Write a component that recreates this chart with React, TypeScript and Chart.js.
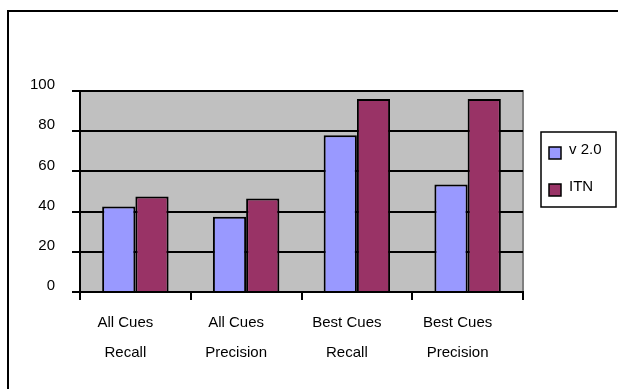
import React, { useEffect, useRef } from "react";
import { Chart, registerables } from "chart.js";

Chart.register(...registerables);

const categories: string[][] = [
  ["All Cues", "Recall"],
  ["All Cues", "Precision"],
  ["Best Cues", "Recall"],
  ["Best Cues", "Precision"],
];
const seriesNames = ["v 2.0", "ITN"];
const v20Values = [42.5, 37.5, 78, 53.5];
const itnValues = [47.5, 46.5, 96, 96];
const yTicks = [0, 20, 40, 60, 80, 100];

const FONT = "'Liberation Sans', Arial, sans-serif";

export default function App() {
  const ref = useRef<HTMLCanvasElement | null>(null);

  useEffect(() => {
    if (!ref.current) return;

    const framePlugin = {
      id: "frame",
      beforeDraw(chart: any) {
        const { ctx, chartArea, width, height } = chart;
        ctx.save();
        ctx.fillStyle = "#ffffff";
        ctx.fillRect(0, 0, width, height);
        ctx.strokeStyle = "#000000";
        ctx.lineWidth = 2;
        ctx.beginPath();
        ctx.moveTo(8, height + 5);
        ctx.lineTo(8, 11);
        ctx.lineTo(width + 5, 11);
        ctx.stroke();
        ctx.fillStyle = "#C0C0C0";
        ctx.fillRect(chartArea.left, chartArea.top, chartArea.right - chartArea.left, chartArea.bottom - chartArea.top);
        ctx.strokeStyle = "#808080";
        ctx.lineWidth = 2;
        ctx.strokeRect(chartArea.left, chartArea.top, chartArea.right - chartArea.left, chartArea.bottom - chartArea.top);
        ctx.restore();
      },
    };

    const legendPlugin = {
      id: "customLegend",
      afterDraw(chart: any) {
        const { ctx } = chart;
        const bx = 541, by = 132, bw = 75, bh = 75;
        ctx.save();
        ctx.fillStyle = "#ffffff";
        ctx.fillRect(bx, by, bw, bh);
        ctx.strokeStyle = "#000000";
        ctx.lineWidth = 1.5;
        ctx.strokeRect(bx, by, bw, bh);
        ctx.font = `15px ${FONT}`;
        ctx.textBaseline = "middle";
        chart.data.datasets.forEach((ds: any, i: number) => {
          const cy = by + 20 + i * 37;
          ctx.fillStyle = ds.backgroundColor;
          ctx.fillRect(bx + 8, cy - 5, 12, 12);
          ctx.strokeStyle = "#000000";
          ctx.lineWidth = 1.5;
          ctx.strokeRect(bx + 8, cy - 5, 12, 12);
          ctx.fillStyle = "#000000";
          ctx.fillText(ds.label, bx + 28, cy - 2);
        });
        ctx.restore();
      },
    };

    const chart = new Chart(ref.current, {
      type: "bar",
      data: {
        labels: categories,
        datasets: [
          {
            label: seriesNames[0],
            data: v20Values,
            backgroundColor: "#9999FF",
            borderColor: "#000000",
            borderWidth: 2,
          },
          {
            label: seriesNames[1],
            data: itnValues,
            backgroundColor: "#993366",
            borderColor: "#000000",
            borderWidth: 2,
          },
        ],
      },
      options: {
        responsive: false,
        animation: false,
        layout: { padding: { left: 0, top: 91, right: 95, bottom: 0 } },
        datasets: { bar: { barPercentage: 1, categoryPercentage: 0.6 } },
        plugins: {
          legend: { display: false },
          tooltip: { enabled: false },
        },
        scales: {
          x: {
            grid: {
              offset: true,
              drawOnChartArea: false,
              tickLength: 8,
              color: "#000000",
              lineWidth: 2,
            },
            border: { color: "#000000", width: 2 },
            ticks: {
              color: "#000000",
              font: { family: FONT, size: 15, lineHeight: 2 },
              padding: 8,
              labelOffset: -10,
              maxRotation: 0,
              autoSkip: false,
            },
            afterFit(scale: any) {
              scale.height = 97;
            },
          },
          y: {
            min: 0,
            max: 100,
            afterBuildTicks(scale: any) {
              scale.ticks = yTicks.map((v) => ({ value: v }));
            },
            grid: {
              color: "#000000",
              lineWidth: 2,
              tickLength: 8,
            },
            border: { color: "#000000", width: 2 },
            ticks: {
              color: "#000000",
              font: { family: FONT, size: 15 },
              padding: 17,
              labelOffset: -6,
            },
            afterFit(scale: any) {
              scale.width = 80;
            },
          },
        },
      },
      plugins: [framePlugin, legendPlugin],
    });

    return () => chart.destroy();
  }, []);

  return (
    <div style={{ position: "fixed", left: 0, top: 0, width: 618, height: 389 }}>
      <canvas ref={ref} width={618} height={389} />
    </div>
  );
}
